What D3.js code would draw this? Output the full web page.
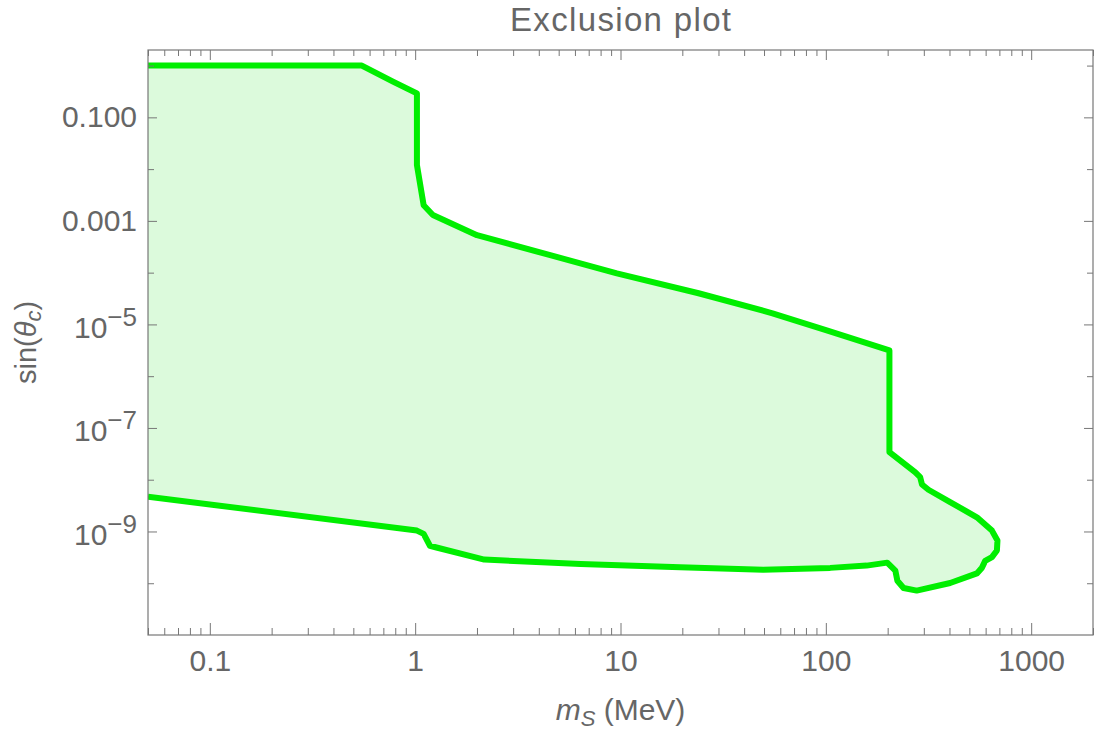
<!DOCTYPE html>
<html>
<head>
<meta charset="utf-8">
<script src="https://cdn.jsdelivr.net/npm/d3@7"></script>
<style>
 body { margin: 0; background: #fff; }
 text { font-family: "Liberation Sans", Arial, sans-serif; fill: #666; font-size: 30px; }
</style>
</head>
<body>
<div id="chart"></div>
<script>
// excluded region (m_S in MeV, sin(theta_c))
// upper edge, left to right up to the 200 MeV corner
var upperMass = [0.05, 0.55, 0.78, 1.02, 1.02, 1.10, 1.22, 2.0, 4.5, 9.6, 24, 55, 101, 204];
var upperSin  = [1, 1, 0.49, 0.29, 0.012, 2.0e-3, 1.3e-3, 5.3e-4, 2.2e-4, 9.7e-5, 4.0e-5, 1.64e-5, 7.7e-6, 3.15e-6];

// the nose on the right, from the corner round to the small dip
var noseMass = [204, 272, 288, 294, 316, 403, 544, 644, 685, 681, 644, 597, 575, 544, 403, 277, 239, 223, 218];
var noseSin  = [3.4e-8, 1.4e-8, 1.12e-8, 8.1e-9, 6.4e-9, 3.7e-9, 1.88e-9, 1.04e-9, 6.7e-10, 4.3e-10, 3.2e-10, 2.7e-10, 1.98e-10, 1.55e-10, 1.01e-10, 7.2e-11, 8.1e-11, 1.12e-10, 1.75e-10];

// lower edge, right to left
var lowerMass = [199, 158, 105, 49.5, 19.5, 6.4, 2.17, 1.27, 1.18, 1.10, 1.02, 0.05];
var lowerSin  = [2.5e-10, 2.19e-10, 1.98e-10, 1.83e-10, 2.03e-10, 2.36e-10, 2.86e-10, 4.9e-10, 5.3e-10, 9.0e-10, 1.04e-9, 4.7e-9];

// ticks
var xMajor = [0.1, 1, 10, 100, 1000];
var xLabels = ["0.1", "1", "10", "100", "1000"];
var yMajor = [1e-1, 1e-3, 1e-5, 1e-7, 1e-9];
var yLabelBase = ["0.100", "0.001", "10", "10", "10"];
var yLabelExp = ["", "", "\u22125", "\u22127", "\u22129"];
var yMinor = [1, 1e-2, 1e-4, 1e-6, 1e-8, 1e-10];

function init(){

 var margin = {left: 148, top: 50},
     width = 945,
     height = 585;

 var svg = d3.select("#chart")
   .append("svg")
   .attr("width", 1097)
   .attr("height", 735);

 var g = svg.append("g")
   .attr("transform", "translate(" + margin.left + "," + margin.top + ")");

 var x = d3.scaleLog().domain([0.05, 2000]).range([0, width]);
 var y = d3.scaleLog().domain([1e-11, 2]).range([height, 0]);

 // minor x ticks: 2..9 in each decade
 var xMinor = [];
 [0.01, 0.1, 1, 10, 100, 1000].forEach(function(dec){
   for (var k = 2; k <= 9; k++) {
     var v = dec * k;
     if (v >= 0.05 && v <= 2000) xMinor.push(v);
   }
 });

 g.append("clipPath").attr("id", "plotclip")
   .append("rect").attr("width", width).attr("height", height);

 // build the contour
 var pts = [];
 upperMass.forEach(function(m, i){ pts.push([m, upperSin[i]]); });
 noseMass.forEach(function(m, i){ pts.push([m, noseSin[i]]); });
 lowerMass.forEach(function(m, i){ pts.push([m, lowerSin[i]]); });

 var line = d3.line()
   .x(function(d){ return x(d[0]); })
   .y(function(d){ return y(d[1]); });

 var region = g.append("g").attr("clip-path", "url(#plotclip)");

 region.append("path")
   .attr("d", line(pts) + "Z")
   .attr("fill", "#dcfadc")
   .attr("stroke", "none");

 region.append("path")
   .attr("d", line(pts))
   .attr("fill", "none")
   .attr("stroke", "#00ee00")
   .attr("stroke-width", 6)
   .attr("stroke-linejoin", "round");

 var axisColor = "#777";

 // bottom axis
 g.append("g")
   .attr("transform", "translate(0," + height + ")")
   .attr("color", axisColor)
   .call(d3.axisBottom(x).tickValues(xMinor).tickSize(-7).tickFormat(""))
   .call(function(a){ a.select(".domain").remove(); });

 g.append("g")
   .attr("transform", "translate(0," + height + ")")
   .attr("color", axisColor)
   .call(d3.axisBottom(x).tickValues(xMajor).tickSize(-12).tickPadding(15)
     .tickFormat(function(d, i){ return xLabels[i]; }))
   .call(function(a){ a.select(".domain").remove(); });

 // top axis (mirror, no labels)
 g.append("g")
   .attr("color", axisColor)
   .call(d3.axisTop(x).tickValues(xMinor).tickSize(-6).tickFormat(""))
   .call(function(a){ a.select(".domain").remove(); });
 g.append("g")
   .attr("color", axisColor)
   .call(d3.axisTop(x).tickValues(xMajor).tickSize(-10).tickFormat(""))
   .call(function(a){ a.select(".domain").remove(); });

 // left axis
 g.append("g")
   .attr("color", axisColor)
   .call(d3.axisLeft(y).tickValues(yMinor).tickSize(-6).tickFormat(""))
   .call(function(a){ a.select(".domain").remove(); });

 var left = g.append("g")
   .attr("color", axisColor)
   .call(d3.axisLeft(y).tickValues(yMajor).tickSize(-9).tickPadding(11)
     .tickFormat(function(d, i){ return yLabelBase[i]; }))
   .call(function(a){ a.select(".domain").remove(); });

 left.selectAll(".tick text").each(function(d, i){
   if (yLabelExp[i]) {
     d3.select(this).attr("dy", "0.42em");
     d3.select(this).append("tspan")
       .attr("dy", "-12")
       .style("font-size", "26px")
       .text(yLabelExp[i]);
   }
 });

 // right axis (mirror)
 g.append("g")
   .attr("transform", "translate(" + width + ",0)")
   .attr("color", axisColor)
   .call(d3.axisRight(y).tickValues(yMinor).tickSize(-6).tickFormat(""))
   .call(function(a){ a.select(".domain").remove(); });
 g.append("g")
   .attr("transform", "translate(" + width + ",0)")
   .attr("color", axisColor)
   .call(d3.axisRight(y).tickValues(yMajor).tickSize(-9).tickFormat(""))
   .call(function(a){ a.select(".domain").remove(); });

 // frame
 g.append("rect")
   .attr("width", width)
   .attr("height", height)
   .attr("fill", "none")
   .attr("stroke", axisColor)
   .attr("stroke-width", 1.2);

 // title
 svg.append("text")
   .attr("x", margin.left + width / 2)
   .attr("y", 31)
   .attr("text-anchor", "middle")
   .style("font-size", "33px")
   .attr("textLength", 221)
   .attr("lengthAdjust", "spacing")
   .text("Exclusion plot");

 // x label: m_S (MeV)
 var xl = svg.append("text")
   .attr("x", margin.left + width / 2)
   .attr("y", 720)
   .attr("text-anchor", "middle")
   .style("font-size", "30px");
 xl.append("tspan").style("font-style", "italic").text("m");
 xl.append("tspan").style("font-style", "italic").style("font-size", "22px").attr("dy", 6).text("S");
 xl.append("tspan").attr("dy", -6).text(" (MeV)");

 // y label: sin(theta_c)
 var yl = svg.append("text")
   .attr("transform", "translate(36," + (margin.top + height / 2) + ") rotate(-90)")
   .attr("text-anchor", "middle")
   .style("font-size", "29px");
 yl.append("tspan").text("sin(");
 yl.append("tspan").style("font-style", "italic").text("\u03b8");
 yl.append("tspan").style("font-style", "italic").style("font-size", "22px").attr("dy", 5).text("c");
 yl.append("tspan").attr("dy", -5).text(")");

}
window.onload = init;
</script>
</body>
</html>
